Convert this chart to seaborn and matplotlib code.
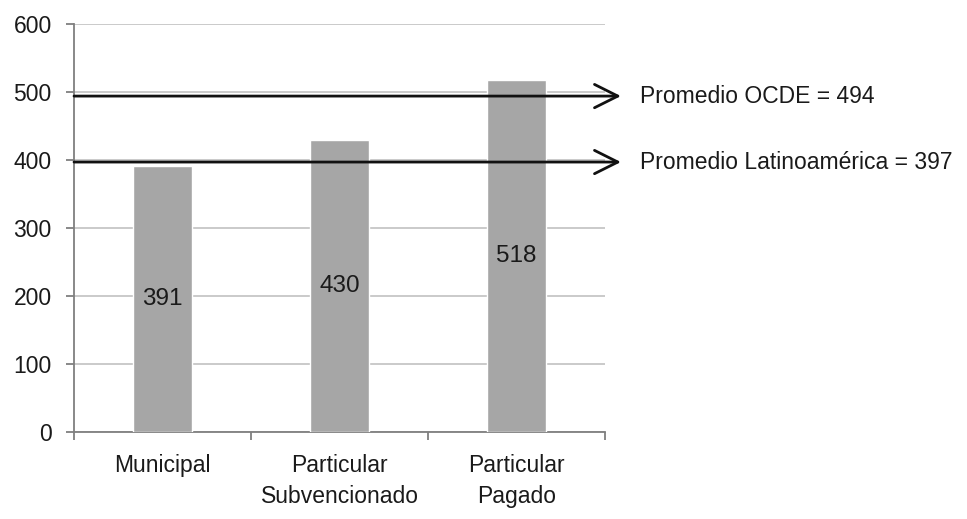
import matplotlib
matplotlib.use("Agg")
import matplotlib.pyplot as plt
import seaborn as sns
import pandas as pd

categories = ["Municipal", "Particular\nSubvencionado", "Particular\nPagado"]
scores = [391, 430, 518]
ref_names = ["Promedio OCDE", "Promedio Latinoamérica"]
ref_values = [494, 397]
y_ticks = [0, 100, 200, 300, 400, 500, 600]

sns.set_theme(style="white")
plt.rcParams["font.family"] = ["Liberation Sans", "DejaVu Sans"]

fig = plt.figure(figsize=(9.67, 5.19), dpi=100)
ax = fig.add_axes([74 / 967, (519 - 432) / 519, (605 - 74) / 967, (432 - 24) / 519])

df = pd.DataFrame({"tipo": categories, "puntaje": scores})
sns.barplot(data=df, x="tipo", y="puntaje", color="#a6a6a6", saturation=1,
            width=1 / 3, ax=ax, zorder=3)

ax.set_ylim(0, 600)
ax.set_xlim(-0.5, len(categories) - 0.5)
ax.set_yticks(y_ticks)
ax.yaxis.grid(True, color="#c6c6c6", linewidth=1.3, zorder=0)
ax.set_axisbelow(True)
ax.set_xlabel("")
ax.set_ylabel("")

for side in ("top", "right"):
    ax.spines[side].set_visible(False)
for side in ("left", "bottom"):
    ax.spines[side].set_color("#7f7f7f")
    ax.spines[side].set_linewidth(1.3)

# category boundary ticks on x, labels centered under bars
ax.set_xticks([-0.5, 0.5, 1.5, 2.5], minor=True)
ax.set_xticks(range(len(categories)))
ax.set_xticklabels(categories, fontsize=16.5, color="#1a1a1a", linespacing=1.45)
ax.tick_params(axis="x", which="major", length=0, pad=16)
ax.tick_params(axis="x", which="minor", length=6, width=1.3, color="#7f7f7f",
               direction="out", bottom=True)
ax.tick_params(axis="y", length=6, width=1.3, color="#7f7f7f", direction="out",
               left=True, labelsize=16.5, labelcolor="#1a1a1a", pad=10)

# value labels in the middle of each bar
for i, v in enumerate(scores):
    ax.text(i, v / 2, str(v), ha="center", va="center", fontsize=17.5,
            color="#1a1a1a", zorder=4)

# reference averages drawn as arrows running past the plot area
for name, val in zip(ref_names, ref_values):
    ax.annotate("", xy=(1.03, val), xycoords=("axes fraction", "data"),
                xytext=(0, val), textcoords=("axes fraction", "data"),
                arrowprops=dict(arrowstyle="->", color="#111111", lw=2.0,
                                mutation_scale=42, shrinkA=0, shrinkB=0),
                annotation_clip=False, zorder=5)
    ax.text(1.066, val, f"{name} = {val}", transform=ax.get_yaxis_transform(),
            ha="left", va="center", fontsize=16.5, color="#1a1a1a", clip_on=False)

fig.savefig("out.png", dpi=100, facecolor="white")
